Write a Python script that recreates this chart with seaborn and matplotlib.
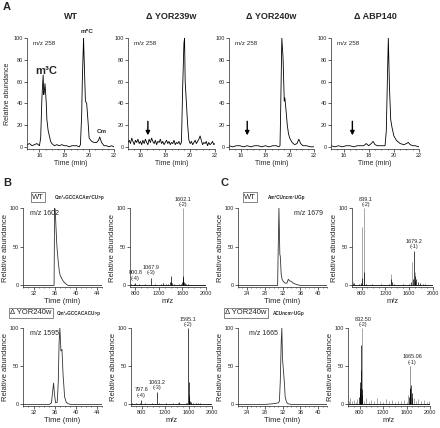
import matplotlib
matplotlib.use('Agg')
import numpy as np
import pandas as pd
import seaborn as sns
from matplotlib import pyplot as plt
from matplotlib.ticker import MultipleLocator

## Data
# Panel A: m/z 258 extracted ion chromatograms (time in min, relative abundance)
wt_t = [15.0, 15.2, 15.4, 15.6, 15.8, 16.0, 16.1, 16.2, 16.3, 16.35, 16.4, 16.45, 16.55, 16.6, 16.7, 16.8,
        16.9, 17.0, 17.2, 17.4, 17.6, 17.8, 18.0, 18.2, 18.4, 18.6, 18.8, 19.0, 19.2, 19.3, 19.4, 19.45,
        19.55, 19.6, 19.7, 19.8, 19.9, 20.0, 20.2, 20.4, 20.6, 20.75, 20.85, 21.0, 21.2, 21.4, 21.6, 21.8, 22.0]
wt_v = [2, 3, 1, 2, 3, 1, 8, 45, 66, 48, 52, 58, 40, 25, 15, 10,
        5, 3, 1, 2, 1, 2, 1, 1, 0, 1, 1, 1, 0, 2, 30, 60,
        100, 80, 42, 40, 25, 8, 5, 4, 4, 6, 9, 4, 1, 1, 0, 1, 0]

y239_t = [15.0, 15.1, 15.2, 15.3, 15.4, 15.5, 15.6, 15.7, 15.8, 15.9, 16.0, 16.1, 16.2, 16.3, 16.4, 16.5,
          16.6, 16.7, 16.8, 16.9, 17.0, 17.1, 17.2, 17.3, 17.4, 17.5, 17.6, 17.7, 17.8, 17.9, 18.0, 18.1,
          18.2, 18.3, 18.4, 18.5, 18.6, 18.7, 18.8, 18.9, 19.0, 19.1, 19.2, 19.3, 19.4, 19.5, 19.55, 19.6,
          19.7, 19.8, 19.9, 20.0, 20.1, 20.2, 20.3, 20.4, 20.5, 20.6, 20.7, 20.8, 20.9, 21.0, 21.1, 21.2,
          21.3, 21.4, 21.5, 21.6, 21.7, 21.8, 21.9, 22.0]
y239_v = [4, 6, 3, 8, 5, 2, 6, 4, 7, 3, 5, 2, 6, 3, 7, 4,
          2, 7, 4, 8, 5, 3, 6, 2, 5, 4, 7, 3, 5, 2, 4, 6,
          3, 5, 2, 4, 3, 6, 2, 4, 3, 5, 2, 4, 55, 95, 100, 60,
          40, 20, 6, 3, 5, 2, 4, 6, 3, 5, 7, 10, 6, 2, 4, 3,
          5, 1, 4, 2, 3, 5, 2, 3]

y240_t = [15.0, 15.3, 15.6, 15.9, 16.2, 16.5, 16.8, 17.1, 17.4, 17.7, 18.0, 18.3, 18.6, 18.9, 19.1, 19.2,
          19.25, 19.3, 19.35, 19.45, 19.55, 19.6, 19.7, 19.8, 19.9, 20.0, 20.2, 20.4, 20.6, 20.75, 20.9,
          21.1, 21.4, 21.7, 22.0]
y240_v = [1, 0, 1, 1, 0, 1, 0, 1, 1, 0, 1, 0, 1, 1, 0, 1,
          30, 65, 100, 82, 42, 45, 33, 20, 12, 8, 4, 2, 3, 7, 3,
          1, 1, 0, 0]

abp_t = [15.0, 15.3, 15.6, 15.9, 16.2, 16.5, 16.8, 17.1, 17.4, 17.6, 17.8, 18.0, 18.2, 18.35, 18.5, 18.7,
         18.9, 19.1, 19.3, 19.4, 19.5, 19.56, 19.65, 19.75, 19.85, 20.0, 20.2, 20.5, 20.8, 21.0, 21.15,
         21.3, 21.5, 21.7, 22.0]
abp_v = [1, 0, 1, 0, 1, 1, 0, 1, 1, 1, 3, 1, 3, 5, 2, 1,
         1, 1, 1, 15, 70, 100, 55, 25, 18, 10, 6, 3, 2, 3, 4,
         2, 1, 1, 0]

a_titles = ['WT', 'Δ YOR239w', 'Δ YOR240w', 'Δ ABP140']
a_arrow_x = [None, 16.6, 16.5, 16.7]

# Panel B: chromatograms (min) and mass spectra (m/z)
b1_t = [30, 31, 32, 33, 34, 35, 35.9, 36.0, 36.1, 36.2, 36.3, 36.4, 36.5, 36.7, 36.9, 37.1, 37.3, 37.5,
        37.7, 38.0, 38.3, 38.6, 39, 40, 41, 42, 43, 44, 45]
b1_v = [0, 0, 0, 0, 0, 0, 0, 100, 98, 85, 70, 55, 45, 30, 18, 12, 10, 7,
        5, 3, 1, 0, 0, 0, 0, 0, 0, 0, 0]
b2_t = [30, 31, 32, 33, 34, 35, 35.4, 35.6, 35.8, 36.0, 36.2, 36.5, 36.7, 36.85, 37.0, 37.2, 37.4, 37.6,
        37.9, 38.2, 38.6, 39, 40, 41, 42, 43, 44, 45]
b2_v = [0, 0, 0, 0, 0, 0, 2, 15, 28, 12, 2, 3, 30, 80, 100, 70, 72, 40,
        10, 3, 1, 0, 0, 0, 0, 0, 0, 0]

b1_mz = [720, 745, 770, 800.8, 830, 860, 890, 925, 960, 995, 1030, 1067.9, 1100, 1135, 1170, 1205,
         1240, 1262, 1290, 1320, 1355, 1385, 1400, 1410, 1425, 1450, 1480, 1510, 1545, 1575, 1590,
         1602.1, 1606, 1612, 1625, 1640, 1660, 1690, 1720, 1760, 1800, 1840, 1880, 1920, 1960, 1990]
b1_int = [1.5, 1, 1.5, 3, 1, 1.5, 1, 1, 1.5, 1, 1, 10, 1, 1.5, 1, 1,
          1.5, 3, 1, 1.5, 2, 4, 12, 5, 3, 1.5, 1, 1, 1.5, 2, 5,
          12, 10, 7, 4, 3, 2, 1.5, 1, 1, 1, 0.5, 1, 0.5, 0.5, 0.5]
b1_gray_mz = [1602.1]
b1_gray_int = [100]

b2_mz = [640, 670, 700, 730, 765, 797.6, 830, 860, 900, 940, 980, 1020, 1063.2, 1100, 1140, 1180,
         1220, 1260, 1300, 1340, 1380, 1420, 1440, 1470, 1510, 1550, 1580, 1595.1, 1600, 1605, 1612,
         1625, 1650, 1680, 1720, 1760, 1800, 1850, 1900, 1950, 1990]
b2_int = [1.5, 1, 2, 1, 1.5, 6, 1, 1.5, 1, 1, 1.5, 1, 16, 1.5, 1, 1,
          1.5, 1, 1, 1.5, 1, 2, 3, 1, 1, 1.5, 2, 100, 30, 12, 8,
          4, 3, 2, 2, 1.5, 2, 1, 1, 0.5, 0.5]

# Panel C: chromatograms (min) and mass spectra (m/z)
c1_t = [22, 24, 26, 28, 30, 30.9, 31.0, 31.2, 31.4, 31.5, 31.7, 31.9, 32.2, 32.6, 33.0, 33.3, 33.6,
        34.0, 34.4, 34.8, 35.3, 36, 38, 40, 42]
c1_v = [0, 0, 0, 0, 0, 0, 35, 100, 40, 38, 15, 8, 5, 3, 3, 8, 6,
        5, 3, 2, 1, 0, 0, 0, 0]
c2_t = [22, 24, 26, 28, 30, 31.0, 31.3, 31.5, 31.7, 31.85, 32.0, 32.2, 32.4, 32.6, 32.9, 33.2, 34,
        36, 38, 40, 42]
c2_v = [0, 0, 0, 0, 1, 2, 4, 30, 80, 100, 60, 45, 30, 10, 3, 1, 0,
        0, 0, 0, 0]

c1_mz = [650, 680, 720, 760, 790, 815, 842, 870, 920, 970, 1020, 1070, 1120, 1170, 1220, 1260, 1290,
         1310, 1350, 1400, 1450, 1500, 1550, 1600, 1625, 1660, 1679.2, 1690, 1705, 1720, 1750, 1790,
         1830, 1870, 1910, 1950, 1990]
c1_int = [2, 3, 1, 2, 3, 10, 18, 2, 1, 2, 1, 1, 2, 1, 1, 2, 8,
          5, 2, 1, 1, 2, 1, 2, 5, 8, 45, 12, 6, 8, 4, 3,
          2, 2, 1, 1, 1]
c1_gray_mz = [660, 805, 839.1, 1295, 1640, 1700]
c1_gray_int = [5, 75, 100, 15, 30, 17]

c2_mz = [790, 800, 805, 812, 820, 825, 832.5, 840, 1640, 1650, 1655, 1665.06, 1672, 1685, 1700]
c2_int = [10, 15, 22, 30, 78, 45, 20, 12, 10, 20, 15, 22, 25, 15, 8]
c2_gray_mz = [610, 640, 670, 700, 730, 760, 832.5, 870, 900, 950, 1000, 1050, 1100, 1150, 1200, 1250,
              1300, 1350, 1400, 1450, 1500, 1550, 1600, 1630, 1655, 1665.06, 1720, 1760, 1800, 1850,
              1900, 1950, 1990]
c2_gray_int = [5, 8, 4, 6, 3, 7, 100, 5, 8, 3, 6, 4, 9, 5, 3, 7,
               4, 6, 3, 5, 4, 6, 3, 12, 50, 50, 8, 5, 7, 4, 6, 3, 5]

## Plotting
sns.set_style('ticks')
plt.rcParams['font.family'] = ['Liberation Sans', 'DejaVu Sans']
W, H = 440, 428
fig = plt.figure(figsize=(W / 100, H / 100), dpi=100)


def add_ax(l, t, r, b):
    return fig.add_axes([l / W, 1 - b / H, (r - l) / W, (b - t) / H])


def style(ax, fs=4):
    sns.despine(ax=ax)
    for s in ['left', 'bottom']:
        ax.spines[s].set_linewidth(0.5)
    ax.tick_params(labelsize=fs, length=2, width=0.5, pad=1)
    ax.tick_params(which='minor', length=1, width=0.4)


def boxed(x, y, s):
    fig.text(x / W, 1 - y / H, s, fontsize=5.5, ha='center', va='center',
             bbox=dict(boxstyle='square,pad=0.15', fc='white', ec='#555', lw=0.5))


# Panel A
a_t = [wt_t, y239_t, y240_t, abp_t]
a_v = [wt_v, y239_v, y240_v, abp_v]
a_left = [27, 128, 229, 331]
a_right = [114, 215, 314, 419]
for i in range(4):
    ax = add_ax(a_left[i], 38, a_right[i], 149)
    sns.lineplot(x=a_t[i], y=a_v[i], ax=ax, color='k', lw=0.6, sort=False, estimator=None)
    ax.set_xlim(15, 22)
    ax.set_ylim(-2, 100)
    ax.set_xticks([16, 18, 20, 22])
    ax.xaxis.set_minor_locator(MultipleLocator(0.5))
    ax.set_yticks([0, 20, 40, 60, 80, 100])
    style(ax)
    ax.set_xlabel('Time (min)', fontsize=5, labelpad=1)
    ax.set_ylabel('Relative abundance' if i == 0 else '', fontsize=5, labelpad=2)
    ax.set_title(a_titles[i], fontsize=6.5, fontweight='bold', pad=14)
    ax.text(15.5, 95, 'm/z 258', fontsize=4.5, va='center')
    if a_arrow_x[i] is not None:
        ax.annotate('', xy=(a_arrow_x[i], 8), xytext=(a_arrow_x[i], 26),
                    arrowprops=dict(arrowstyle='-|>', color='k', lw=1.0, mutation_scale=6))
    if i == 0:
        ax.text(15.7, 70, 'm³C', fontsize=8, fontweight='bold', va='center')
        ax.text(19.8, 104, 'm⁵C', fontsize=4.5, fontweight='bold', ha='center', va='bottom', clip_on=False)
        ax.text(21.0, 12, 'Cm', fontsize=4.5, fontweight='bold', ha='center', va='bottom')

fig.text(3 / W, 1 - 7 / H, 'A', fontsize=8, fontweight='bold', va='center')
fig.text(3 / W, 1 - 183 / H, 'B', fontsize=8, fontweight='bold', va='center')
fig.text(220 / W, 1 - 183 / H, 'C', fontsize=8, fontweight='bold', va='center')


def chrom(ax, t, v, xlim, xticks, label, lx, lha):
    sns.lineplot(x=t, y=v, ax=ax, color='#333', lw=0.6, sort=False, estimator=None)
    ax.set_xlim(*xlim)
    ax.set_ylim(-2, 100)
    ax.set_xticks(xticks)
    ax.xaxis.set_minor_locator(MultipleLocator(1))
    ax.set_yticks([0, 50, 100])
    style(ax)
    ax.set_xlabel('Time (min)', fontsize=5.5, labelpad=1)
    ax.set_ylabel('Relative abundance', fontsize=5.5, labelpad=0.5)
    ax.text(lx, 93, label, fontsize=5, ha=lha, va='center')


def spectrum(ax, mz, inten, gmz, gint, xlim, peaks):
    if gmz:
        ax.vlines(gmz, 0, gint, color='#999', lw=0.6)
    ax.vlines(mz, 0, inten, color='k', lw=0.5)
    ax.axhline(0, color='k', lw=0.6)
    ax.set_xlim(*xlim)
    ax.set_ylim(-2, 100)
    ax.set_xticks([800, 1200, 1600, 2000])
    ax.xaxis.set_minor_locator(MultipleLocator(100))
    ax.set_yticks([0, 50, 100])
    style(ax)
    ax.set_xlabel('m/z', fontsize=5.5, labelpad=1)
    ax.set_ylabel('Relative abundance', fontsize=5.5, labelpad=0.5)
    for px, py, txt in peaks:
        ax.text(px, py, txt, fontsize=4, ha='center', va='bottom', linespacing=1.1, clip_on=False)


# Panel B
ax = add_ax(23, 208, 102, 287)
chrom(ax, b1_t, b1_v, (30, 45), [32, 36, 40, 44], 'm/z 1602', 31.3, 'left')
ax = add_ax(130, 208, 206, 287)
spectrum(ax, b1_mz, b1_int, b1_gray_mz, b1_gray_int, (710, 2000),
         [(1602.1, 101, '1602.1\n(-2)'), (1067.9, 13, '1067.9\n(-3)'), (800.8, 6, '800.8\n(-4)')])
ax = add_ax(23, 328, 102, 406)
chrom(ax, b2_t, b2_v, (30, 45), [32, 36, 40, 44], 'm/z 1595', 31.3, 'left')
ax = add_ax(131, 328, 212, 406)
spectrum(ax, b2_mz, b2_int, [], [], (620, 2000),
         [(1595.1, 101, '1595.1\n(-2)'), (1063.2, 19, '1063.2\n(-3)'), (797.6, 9, '797.6\n(-4)')])

boxed(38, 197, 'WT')
fig.text(55 / W, 1 - 197 / H, 'Cm²₂GCCACAm³CU>p', fontsize=3.3, fontweight='bold', va='center')
boxed(31, 313, 'Δ YOR240w')
fig.text(57 / W, 1 - 313 / H, 'Cm²₂GCCACACU>p', fontsize=3.3, fontweight='bold', va='center')

# Panel C
ax = add_ax(238, 208, 327, 287)
chrom(ax, c1_t, c1_v, (22, 42), [24, 28, 32, 36, 40], 'm/z 1679', 34.5, 'left')
ax = add_ax(352, 208, 433, 287)
spectrum(ax, c1_mz, c1_int, c1_gray_mz, c1_gray_int, (640, 2000),
         [(870, 101, '839.1\n(-2)'), (1679.2, 47, '1679.2\n(-1)')])
ax = add_ax(238, 328, 327, 406)
chrom(ax, c2_t, c2_v, (22, 42), [24, 28, 32, 36, 40], 'm/z 1665', 24.5, 'left')
ax = add_ax(348, 328, 430, 406)
spectrum(ax, c2_mz, c2_int, c2_gray_mz, c2_gray_int, (600, 2000),
         [(860, 101, '832.50\n(-2)'), (1700, 52, '1665.06\n(-1)')])

boxed(250, 197, 'WT')
fig.text(268 / W, 1 - 197 / H, 'Am³CUncm⁵UGp', fontsize=3.3, fontweight='bold', va='center')
boxed(246, 313, 'Δ YOR240w')
fig.text(273 / W, 1 - 313 / H, 'ACUncm⁵UGp', fontsize=3.3, fontweight='bold', va='center')

fig.savefig('out.png', dpi=100)
